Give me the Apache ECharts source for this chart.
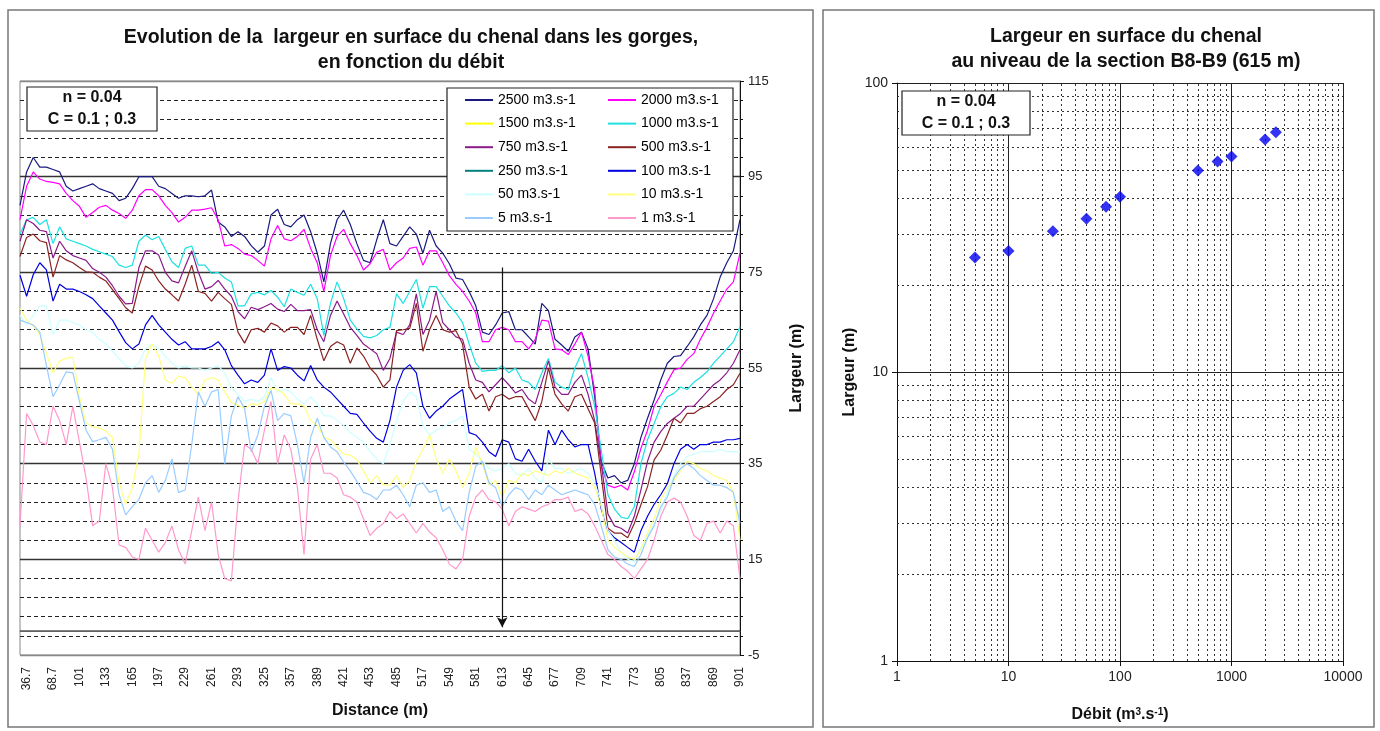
<!DOCTYPE html>
<html>
<head>
<meta charset="utf-8">
<title>Largeur en surface du chenal</title>
<script src="https://cdn.jsdelivr.net/npm/echarts@6/dist/echarts.min.js"></script>
<style>
html,body{margin:0;padding:0;background:#fff;}
#main{width:1380px;height:731px;}
</style>
</head>
<body>
<div id="main"></div>
<script>
// distances le long des gorges (m)
var distance = [28.7, 36.7, 44.7, 52.7, 60.7, 68.7, 76.7, 84.7, 92.7, 100.7,
  108.7, 116.7, 124.7, 132.7, 140.7, 148.7, 156.7, 164.7, 172.7, 180.7,
  188.7, 196.7, 204.7, 212.7, 220.7, 228.7, 236.7, 244.7, 252.7, 260.7,
  268.7, 276.7, 284.7, 292.7, 300.7, 308.7, 316.7, 324.7, 332.7, 340.7,
  348.7, 356.7, 364.7, 372.7, 380.7, 388.7, 396.7, 404.7, 412.7, 420.7,
  428.7, 436.7, 444.7, 452.7, 460.7, 468.7, 476.7, 484.7, 492.7, 500.7,
  508.7, 516.7, 524.7, 532.7, 540.7, 548.7, 556.7, 564.7, 572.7, 580.7,
  588.7, 596.7, 604.7, 612.7, 620.7, 628.7, 636.7, 644.7, 652.7, 660.7,
  668.7, 676.7, 684.7, 692.7, 700.7, 708.7, 716.7, 724.7, 732.7, 740.7,
  748.7, 756.7, 764.7, 772.7, 780.7, 788.7, 796.7, 804.7, 812.7, 820.7,
  828.7, 836.7, 844.7, 852.7, 860.7, 868.7, 876.7, 884.7, 892.7, 900.7];

// etiquettes affichees sur l'axe des distances
var distLabels = ['36.7', '68.7', '101', '133', '165', '197', '229', '261', '293', '325',
  '357', '389', '421', '453', '485', '517', '549', '581', '613', '645',
  '677', '709', '741', '773', '805', '837', '869', '901'];

// largeur (m) pour chaque debit
var q2500 = [89, 96, 99, 97, 97, 96.5, 96, 93, 92, 92.5, 93, 93.5, 92.5, 92, 91.5, 90, 90.5, 92.5, 95, 95, 95, 93, 92.5, 91.5, 90.5, 91, 91, 90.8,
  91, 92.2, 85.5, 84.5, 82.5, 83.5, 82.5, 80.6, 79.2, 80.5, 87, 88.2, 85, 84.5, 86, 87, 83.5, 79, 73, 81, 86, 88, 85, 81, 77.5, 77, 81.8,
  86, 81, 80.5, 82.5, 84.5, 83, 79, 83.8, 80.5, 79, 76.8, 73.8, 73.5, 71, 68, 62.5, 62, 64, 66.5, 66.8, 63, 63, 61.5, 60, 68.5, 67, 61,
  59.8, 58.5, 61.5, 62.5, 59, 49, 35.4, 32, 32.5, 31, 31.5, 35, 40.5, 44.5, 48.3, 52.5, 56, 57.4, 57.6, 59.5, 61.5, 64, 66, 69.5, 74, 77, 79.5, 86];
var q2000 = [86, 93, 96, 94.5, 94, 93.8, 93.5, 91.5, 90, 88.8, 86.5, 87.5, 88.6, 89, 88, 87.3, 86.3, 88, 91, 92.3, 92.3, 91, 89, 87.5, 85.5, 86.5, 88, 88,
  88.2, 88.5, 86, 80.5, 80.8, 80, 78.8, 78.5, 77.5, 76.3, 82, 84.8, 82, 81.6, 82.5, 84, 80, 77, 71, 78.5, 82.5, 84, 81, 78.5, 75.5, 76.8, 79.2,
  79.8, 75.5, 77, 78, 80, 80.3, 76.5, 79.5, 79.5, 77, 74.3, 72.5, 71, 69, 66.5, 60.5, 60.5, 63, 63.5, 63, 60.5, 60.5, 59, 61, 65, 64.8, 59,
  58.8, 57.8, 60, 62.5, 57.5, 50.5, 34.5, 30.5, 30, 30.5, 29.5, 33.3, 38.2, 42, 47, 49.4, 52.1, 54.6, 55, 56.8, 58, 61, 63.5, 66.5, 69, 71.5, 73, 79];
var q1500 = [];
var q1000 = [83, 86, 86.5, 85, 86, 81, 84.5, 82, 81.5, 81, 80.5, 79.8, 79.3, 78.8, 78.3, 76.5, 76, 76.5, 81.5, 82.8, 81.8, 82.5, 79.8, 77.2, 76, 80, 80.5, 76.5,
  76.5, 74.8, 75, 73.8, 73, 68, 68, 70.5, 70.8, 70.3, 71.2, 69.8, 67.8, 71.5, 70.8, 70.2, 72.5, 69.5, 61.8, 68.5, 73, 69.5, 65, 63.2, 61.6, 61.3, 61.8,
  63, 63.5, 70.5, 68.5, 71, 73.5, 67.5, 72, 72, 70, 68, 66.5, 64.5, 60, 56, 54.3, 54.5, 54.5, 55.5, 54, 55, 52.5, 52, 50.5, 54, 57, 52,
  51, 50.5, 55, 58, 53, 47, 37.8, 28.5, 25.5, 23.8, 23.5, 26, 35, 40, 43.4, 46.9, 49, 49.7, 51, 50.5, 52, 53, 54.2, 56, 57.5, 59, 60.5, 63.6];
var q750 = [81.5, 86, 85.2, 83.8, 83.5, 78, 81.5, 79.5, 78.5, 78, 77.5, 75.8, 75, 74, 72.2, 70, 68.4, 68.5, 76, 79.5, 79.5, 78.6, 75, 73.2, 72.8, 76.2, 79.5, 75,
  71.5, 72, 73.3, 71.5, 70, 66.8, 65.3, 67.7, 67.2, 67.8, 68.5, 67.3, 66.8, 68.3, 67, 67, 67.2, 63, 60.5, 66, 69, 66.3, 63.5, 61.8, 60, 59, 58,
  54.5, 57, 62.5, 62, 64, 70.5, 62, 65, 71, 64.5, 63, 61.5, 61, 56, 52.5, 52, 50, 51.5, 53, 51.5, 49.8, 50.5, 48.5, 47.5, 52, 56.5, 51,
  49.5, 49.5, 52, 53.5, 49.5, 44, 35, 24.5, 22, 21.5, 20.5, 24, 29.5, 35.5, 39.5, 41.7, 43.4, 44.5, 45.5, 47, 47, 48.5, 50, 51.5, 52.5, 54, 56, 58.8];
var q500 = [78.3, 82.3, 83, 81.6, 81.2, 74, 78.5, 77.6, 77, 76, 75.1, 75, 74, 73.2, 71.4, 69.5, 67.6, 66.5, 72, 76.3, 75.5, 73.2, 71.5, 70.3, 69, 72.5, 76.5, 71,
  70.6, 69, 70.8, 69.5, 68.3, 62.5, 60.2, 63, 63.3, 62.5, 64.4, 63.8, 62.5, 63.5, 63.5, 62, 66, 61, 56.5, 59.5, 60.5, 59.8, 56, 59.2, 57.5, 55, 53.5,
  51, 52.5, 62.8, 63, 63.3, 68.5, 58.5, 63, 66, 63, 62.5, 62.8, 60, 51, 48.5, 49.5, 46, 49, 49.5, 48.5, 49, 49, 46.5, 44, 48, 55, 49.5,
  47.5, 46, 49, 49.5, 46.5, 43.5, 32.5, 21.5, 20.5, 20.5, 19.5, 22.5, 26.4, 30.2, 35.8, 37.8, 41, 44.5, 43.5, 45.5, 45.5, 46.5, 47, 48, 49, 50.5, 51.5, 53.9];
var q250 = [];
var q100 = [74.4, 70, 74.5, 77, 75.5, 69, 72.5, 71.5, 71.5, 71, 70.3, 69.5, 68, 66.5, 65, 62.6, 60.3, 59, 60, 64, 66, 64, 62.5, 61, 59.8, 60.5, 59, 59,
  59, 59.5, 60.5, 58.8, 55.5, 53.5, 51.7, 52.5, 52, 53.5, 59, 54.5, 55.3, 55, 53.5, 52.3, 55.5, 52.5, 51, 50, 48.5, 47, 45.5, 45.3, 43.5, 41.8, 40.3,
  39.5, 44, 51, 54.5, 55.7, 54, 47, 44.5, 46, 47, 48.5, 49.5, 50.5, 41.5, 41, 39.5, 37.5, 36.5, 40, 39.5, 36, 35.5, 38, 35.5, 33.5, 42, 39,
  42, 40, 38.5, 39, 39, 33, 25.5, 21, 19.5, 18.5, 17.5, 16.5, 21, 24, 26.5, 28.5, 30.8, 35, 38, 39, 38, 39, 39, 39.5, 39.5, 40, 40, 40.3];
var q50 = [66, 64, 66, 68, 68, 62, 65, 65, 64.5, 64, 63, 62.5, 61, 60, 58.5, 57, 55.5, 55, 56, 59, 60, 59, 57.5, 56, 55, 55.5, 55, 55,
  54.5, 55, 55.5, 54, 51, 49.5, 48, 48.5, 48, 49, 53, 50, 50.5, 50, 48.5, 47.5, 49, 47.5, 45, 45, 44, 43, 41.5, 40.5, 39.5, 37.5, 36,
  35, 39, 44, 48, 50, 49, 43, 41, 42, 42.5, 43.5, 44, 45, 38, 37, 35.5, 34, 33.5, 34, 35, 33, 32.5, 34, 32, 31, 36, 34,
  34, 33, 33.5, 34, 33, 31, 27, 21, 19, 16.5, 15, 14.5, 17.5, 20, 22.5, 25, 29, 32.5, 35, 36.5, 37, 37.5, 37.5, 37.5, 38, 37.5, 37.5, 37.5];
var q10 = [67.5, 65, 63.8, 62, 58, 54, 56.5, 57, 57.3, 49, 43.5, 42.7, 42.5, 41.8, 40.5, 31, 26.5, 30, 37, 57, 60, 57.5, 52.5, 51.8, 53.3, 53, 51, 49.5,
  52.5, 53, 52.5, 50, 47.8, 47.2, 46.5, 47.5, 47.3, 48, 50.8, 50.5, 49.5, 47.5, 47.5, 47, 44, 43, 40.5, 40, 38.5, 37, 36.8, 35.8, 33.5, 31, 32.5,
  30.5, 30.5, 32.5, 30, 31.5, 35.5, 38, 41, 36, 33, 36, 33.5, 30, 33, 38.5, 35, 30.5, 31.5, 28, 31.5, 31, 33, 32.5, 33.5, 33, 32.5, 33.5,
  33, 34, 33, 32.5, 32, 30, 26, 19, 17.5, 16.5, 15.5, 15, 17, 20.5, 23.5, 27.5, 30, 31.5, 33.5, 35.5, 35, 34, 33.5, 32.5, 32, 31.5, 29, 19];
var q5 = [65, 64.5, 64, 62.5, 55.5, 49, 51.5, 54.2, 54, 48, 42, 39.6, 40, 40.5, 38, 28.5, 24.3, 26, 27.5, 31, 32.5, 29, 31.5, 36, 29, 29.5, 39, 50,
  47, 50, 50.5, 35, 45, 49, 46.5, 37.5, 41, 47, 50.3, 44, 45.5, 45, 39, 31, 40.5, 44.5, 40.5, 38.5, 37.5, 35.3, 33.5, 31.3, 29, 28.5, 27.5,
  29.5, 29.5, 30.5, 28.5, 26, 30.5, 31, 29, 29.5, 25, 26, 23, 21, 29, 34.5, 35.5, 31, 30, 26, 28.5, 30, 29.5, 27.5, 29.5, 28.5, 30.5, 29.5,
  28.5, 29, 29.5, 29, 28.5, 26.5, 22, 17, 15.5, 15, 14, 13.5, 16, 19.5, 22, 26, 28, 32, 34, 35, 34, 32.5, 31.5, 30.5, 30.5, 30, 29, 22.5];
var q1 = [22, 45.5, 43, 39.5, 39, 47, 44, 39, 47, 39.5, 32, 22, 23, 35, 30, 18, 17.5, 15.5, 15, 21.5, 19, 16.5, 18.5, 22, 17, 14, 21, 28,
  21, 27, 16, 11, 10.5, 27, 39, 38, 35, 42, 48, 35, 41, 38, 30, 16, 36, 39, 33, 33, 32, 28.5, 28, 27, 23.5, 20, 21.5,
  22.5, 25, 23.5, 24.5, 22.5, 20.5, 22.5, 20.7, 19.5, 17, 14, 13, 15, 24, 28, 29.5, 27.5, 27, 25.5, 22, 25, 26, 25.5, 25, 26, 26.5, 27.5,
  27.5, 28, 25, 25.5, 24.5, 22, 19, 16, 15, 13.5, 12.5, 11, 13, 15, 19, 24, 27, 27.8, 27, 24, 20, 19, 22.5, 23, 20.5, 23, 22, 11];

// section B8-B9 (615 m)
var debit = [5, 10, 25, 50, 75, 100, 500, 750, 1000, 2000, 2500];
var largeurB8B9 = [24.9, 26.2, 30.7, 33.9, 37.3, 40.4, 49.8, 53.5, 55.7, 63.8, 67.5];

var logMinor = [2, 3, 4, 5, 6, 7, 8, 9];

var police = 'Liberation Sans, Arial, sans-serif';

function fmtDist(v) {
  var n = parseFloat(v);
  return n < 100 ? n.toFixed(1) : String(Math.round(n));
}

function courbe(nom, data, couleur) {
  return {
    name: nom, type: 'line', xAxisIndex: 0, yAxisIndex: 0,
    data: data, symbol: 'none', z: 3,
    lineStyle: { color: couleur, width: 1.2 },
    itemStyle: { color: couleur }
  };
}

// lignes de grille secondaires du graphe log-log
var minorLines = [];
[1, 10, 100, 1000].forEach(function (d) {
  logMinor.forEach(function (m) { minorLines.push({ xAxis: m * d }); });
});
[1, 10].forEach(function (d) {
  logMinor.forEach(function (m) { minorLines.push({ yAxis: m * d }); });
});

var series = [
  courbe('2500 m3.s-1', q2500, '#1a1a80'),
  courbe('2000 m3.s-1', q2000, '#ff00ff'),
  courbe('1500 m3.s-1', q1500, '#ffff00'),
  courbe('1000 m3.s-1', q1000, '#1ee0e0'),
  courbe('750 m3.s-1', q750, '#8b1a8b'),
  courbe('500 m3.s-1', q500, '#8b2323'),
  courbe('250 m3.s-1', q250, '#008080'),
  courbe('100 m3.s-1', q100, '#0000e0'),
  courbe('50 m3.s-1', q50, '#ccffff'),
  courbe('10 m3.s-1', q10, '#ffff80'),
  courbe('5 m3.s-1', q5, '#99ccff'),
  courbe('1 m3.s-1', q1, '#ff99cc')
];

// ligne du zero et fleche de la section B8-B9
series[11].markLine = {
  silent: true, animation: false,
  symbol: ['none', 'none'],
  label: { show: false },
  data: [
    { yAxis: 0, lineStyle: { color: '#555', width: 1.5, type: 'solid' } },
    [
      { coord: ['612.7', 76], lineStyle: { color: '#111', width: 1.2, type: 'solid' } },
      { coord: ['612.7', 0.8], symbol: 'arrow', symbolSize: [8, 10] }
    ]
  ]
};

series.push({
  name: 'grille', type: 'line', xAxisIndex: 1, yAxisIndex: 1,
  data: [[1, 1]], symbol: 'none', z: 1,
  lineStyle: { opacity: 0 },
  markLine: {
    silent: true, symbol: ['none', 'none'], label: { show: false },
    lineStyle: { type: [2, 3], color: '#333', width: 1 },
    data: minorLines
  }
});
series.push({
  name: 'B8-B9', type: 'scatter', xAxisIndex: 1, yAxisIndex: 1, z: 5,
  symbol: 'diamond', symbolSize: 12,
  itemStyle: { color: '#0000ee' },
  data: debit.map(function (q, i) { return [q, largeurB8B9[i]]; })
});

var legendStyle = {
  orient: 'vertical', top: 93, padding: 0, icon: 'rect',
  itemWidth: 28, itemHeight: 2, itemGap: 9.6,
  selectedMode: false, z: 20,
  textStyle: { fontSize: 14, color: '#000', fontFamily: police }
};

var option = {
  animation: false,
  backgroundColor: '#fff',
  textStyle: { fontFamily: police },
  title: [
    {
      text: 'Evolution de la  largeur en surface du chenal dans les gorges,\nen fonction du débit',
      left: 411, top: 25, textAlign: 'center', padding: 0,
      textStyle: { fontSize: 19.5, fontWeight: 'bold', color: '#111', lineHeight: 25, fontFamily: police }
    },
    {
      text: 'Largeur en surface du chenal\nau niveau de la section B8-B9 (615 m)',
      left: 1126, top: 24, textAlign: 'center', padding: 0,
      textStyle: { fontSize: 19.5, fontWeight: 'bold', color: '#111', lineHeight: 25, fontFamily: police }
    }
  ],
  legend: [
    Object.assign({ left: 465, data: ['2500 m3.s-1', '1500 m3.s-1', '750 m3.s-1', '250 m3.s-1', '50 m3.s-1', '5 m3.s-1'] }, legendStyle),
    Object.assign({ left: 608, data: ['2000 m3.s-1', '1000 m3.s-1', '500 m3.s-1', '100 m3.s-1', '10 m3.s-1', '1 m3.s-1'] }, legendStyle)
  ],
  grid: [
    { left: 20, top: 81, width: 720, height: 574, show: true, borderColor: '#888', borderWidth: 1 },
    { left: 897, top: 83, width: 446, height: 578, show: false }
  ],
  xAxis: [
    {
      type: 'category', gridIndex: 0, boundaryGap: false,
      data: distance.map(String),
      axisLine: { lineStyle: { color: '#888' } },
      axisTick: { show: false },
      axisLabel: {
        rotate: 90, fontSize: 12, color: '#222', margin: 12,
        interval: function (i, v) { return distLabels.indexOf(fmtDist(v)) !== -1; },
        formatter: fmtDist
      },
      name: 'Distance (m)', nameLocation: 'middle', nameGap: 48,
      nameTextStyle: { fontSize: 16, fontWeight: 'bold', color: '#111' }
    },
    {
      type: 'log', gridIndex: 1, logBase: 10, min: 1, max: 10000,
      axisLine: { onZero: false, lineStyle: { color: '#111' } },
      axisTick: { show: true, length: 5, lineStyle: { color: '#111' } },
      axisLabel: { fontSize: 14, color: '#222', margin: 9, formatter: function (v) { return String(Math.round(v)); } },
      splitLine: { show: true, lineStyle: { color: '#222', width: 1 } },
      name: 'Débit (m{s|3}.s{s|-1})', nameLocation: 'middle', nameGap: 46,
      nameTextStyle: {
        fontSize: 16, fontWeight: 'bold', color: '#111',
        rich: { s: { fontSize: 10, fontWeight: 'bold', verticalAlign: 'top', color: '#111' } }
      }
    }
  ],
  yAxis: [
    {
      type: 'value', gridIndex: 0, position: 'right', min: -5, max: 115, interval: 20,
      axisLine: { show: true, lineStyle: { color: '#111' } },
      axisTick: { show: true, length: 4, lineStyle: { color: '#111' } },
      minorTick: { show: true, splitNumber: 5, length: 3, lineStyle: { color: '#111' } },
      axisLabel: { fontSize: 13, color: '#222', margin: 8 },
      splitLine: { show: true, lineStyle: { color: ['#888', '#333', '#333', '#333', '#333', '#333', '#888'], width: 1.3 } },
      minorSplitLine: { show: true, lineStyle: { color: '#222', type: [4, 3], width: 1 } },
      name: 'Largeur (m)', nameLocation: 'middle', nameGap: 49, nameRotate: 90,
      nameTextStyle: { fontSize: 16, fontWeight: 'bold', color: '#111' }
    },
    {
      type: 'log', gridIndex: 1, logBase: 10, min: 1, max: 100,
      axisLine: { onZero: false, lineStyle: { color: '#111' } },
      axisTick: { show: true, length: 5, lineStyle: { color: '#111' } },
      axisLabel: { fontSize: 14, color: '#222', margin: 9, formatter: function (v) { return String(Math.round(v)); } },
      splitLine: { show: true, lineStyle: { color: '#222', width: 1 } },
      name: 'Largeur (m)', nameLocation: 'middle', nameGap: 39, nameRotate: 90,
      nameTextStyle: { fontSize: 16, fontWeight: 'bold', color: '#111' }
    }
  ],
  graphic: [
    { type: 'rect', z: -10, silent: true, shape: { x: 8, y: 10, width: 805, height: 717 }, style: { fill: null, stroke: '#777', lineWidth: 1.5 } },
    { type: 'rect', z: -10, silent: true, shape: { x: 823, y: 10, width: 551, height: 717 }, style: { fill: null, stroke: '#777', lineWidth: 1.5 } },
    // boite de legende
    { type: 'rect', z: 10, silent: true, shape: { x: 447, y: 88, width: 286, height: 143 }, style: { fill: '#fff', stroke: '#222', lineWidth: 1.2 } },
    // parametres du modele
    { type: 'rect', z: 10, silent: true, shape: { x: 27, y: 87, width: 130, height: 44 }, style: { fill: '#fff', stroke: '#222', lineWidth: 1.2 } },
    { type: 'text', z: 11, silent: true, style: { text: 'n = 0.04', x: 92, y: 98, textAlign: 'center', textVerticalAlign: 'middle', font: 'bold 16px Liberation Sans', fill: '#111' } },
    { type: 'text', z: 11, silent: true, style: { text: 'C = 0.1 ; 0.3', x: 92, y: 120, textAlign: 'center', textVerticalAlign: 'middle', font: 'bold 16px Liberation Sans', fill: '#111' } },
    { type: 'rect', z: 10, silent: true, shape: { x: 902, y: 91, width: 128, height: 44 }, style: { fill: '#fff', stroke: '#222', lineWidth: 1.2 } },
    { type: 'text', z: 11, silent: true, style: { text: 'n = 0.04', x: 966, y: 102, textAlign: 'center', textVerticalAlign: 'middle', font: 'bold 16px Liberation Sans', fill: '#111' } },
    { type: 'text', z: 11, silent: true, style: { text: 'C = 0.1 ; 0.3', x: 966, y: 124, textAlign: 'center', textVerticalAlign: 'middle', font: 'bold 16px Liberation Sans', fill: '#111' } }
  ],
  series: series
};

var chart = echarts.init(document.getElementById('main'));
chart.setOption(option);
</script>
</body>
</html>
